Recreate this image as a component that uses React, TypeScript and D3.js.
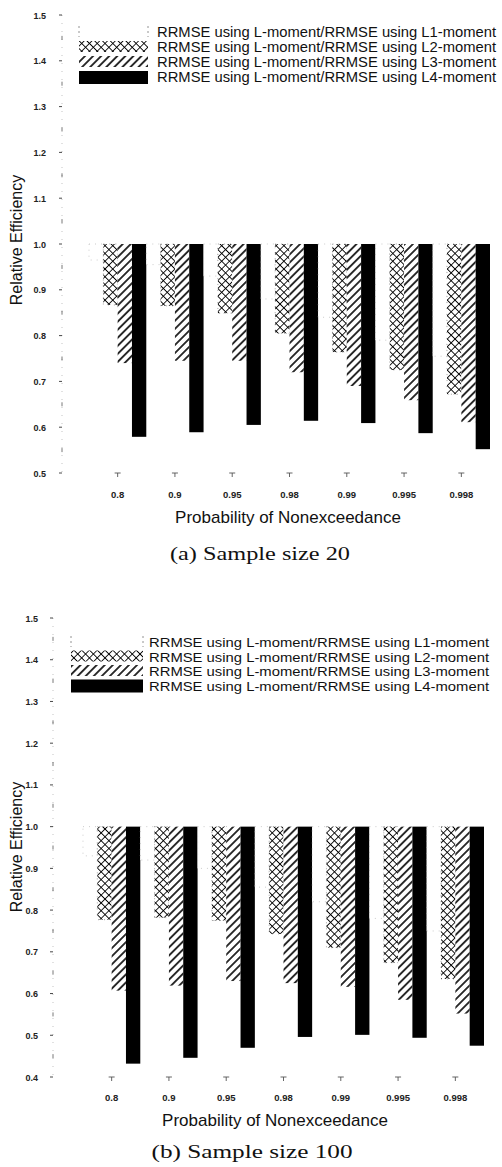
import * as React from "react";
import * as d3 from "d3";

// probability of nonexceedance (x categories)
const categories = ["0.8", "0.9", "0.95", "0.98", "0.99", "0.995", "0.998"];
const seriesKeys = ["L1", "L2", "L3", "L4"];
const legendLabels = seriesKeys.map(k => `RRMSE using L-moment/RRMSE using ${k}-moment`);

// (a) sample size 20
const sizeA_L1 = [0.965, 0.955, 0.93, 0.88, 0.84, 0.79, 0.755];
const sizeA_L2 = [0.867, 0.865, 0.849, 0.805, 0.764, 0.725, 0.672];
const sizeA_L3 = [0.74, 0.745, 0.745, 0.72, 0.69, 0.659, 0.611];
const sizeA_L4 = [0.579, 0.589, 0.605, 0.614, 0.609, 0.587, 0.552];

// (b) sample size 100
const sizeB_L1 = [0.93, 0.92, 0.9, 0.855, 0.82, 0.78, 0.75];
const sizeB_L2 = [0.777, 0.782, 0.775, 0.743, 0.71, 0.674, 0.635];
const sizeB_L3 = [0.607, 0.619, 0.63, 0.625, 0.616, 0.585, 0.552];
const sizeB_L4 = [0.432, 0.446, 0.47, 0.496, 0.501, 0.494, 0.475];

const SANS = "'Liberation Sans', Arial, Helvetica, sans-serif";
const SERIF = "'Liberation Serif', 'Times New Roman', serif";

const Panel = (props: any) => {
  const { id, series, yMin, yMax, yTop, yBottom, xLeft, xRight, axisX } = props;
  const y = d3.scaleLinear().domain([yMin, yMax]).range([yBottom, yTop]);
  const x0 = d3.scaleBand().domain(categories).range([xLeft, xRight]);
  const x1 = d3.scaleBand().domain(seriesKeys).range([0, x0.bandwidth()]);
  const fmt = d3.format(".1f");
  const ticks = y.ticks(12);
  const minor = d3.range(yMin + 0.05, yMax, 0.1);
  const fills = ["#fff", `url(#cross-${id})`, `url(#hatch-${id})`, "#000"];

  const swatch = (j: number, sx: number, sy: number, sw: number, sh: number) => {
    if (j === 0) {
      return (
        <g key={"sw" + j}>
          <line x1={sx} x2={sx} y1={sy} y2={sy + sh} stroke="#777" strokeDasharray="2 3" strokeWidth={0.8} />
          <line x1={sx + sw} x2={sx + sw} y1={sy} y2={sy + sh} stroke="#777" strokeDasharray="2 3" strokeWidth={0.8} />
        </g>
      );
    }
    return <rect key={"sw" + j} x={sx} y={sy} width={sw} height={sh} fill={fills[j]} />;
  };

  return (
    <g>
      <defs>
        <pattern id={`cross-${id}`} width={5.5} height={5.5} patternUnits="userSpaceOnUse" patternTransform="rotate(45)">
          <rect width={5.5} height={5.5} fill="#fff" />
          <path d="M0,0H5.5M0,0V5.5" stroke="#000" strokeWidth={1.7} fill="none" />
        </pattern>
        <pattern id={`hatch-${id}`} width={5.7} height={5.7} patternUnits="userSpaceOnUse" patternTransform="rotate(45)">
          <rect width={5.7} height={5.7} fill="#fff" />
          <path d="M2.85,0V5.7" stroke="#000" strokeWidth={1.6} />
        </pattern>
      </defs>

      {/* y axis */}
      <line x1={axisX} x2={axisX} y1={y(yMax)} y2={y(yMin)} stroke="#aaa" strokeWidth={0.7} strokeDasharray="1 7" />
      {ticks.map(t => (
        <g key={"t" + t}>
          <line x1={axisX - 3} x2={axisX} y1={y(t)} y2={y(t)} stroke="#333" strokeWidth={0.9} />
          <text x={props.tickLabelX} y={y(t) + 3.5} textAnchor="end" fontFamily={SANS} fontSize={9} fontWeight="bold" fill="#222">
            {fmt(t)}
          </text>
        </g>
      ))}
      {minor.map(t => (
        <line key={"m" + t} x1={axisX} x2={axisX} y1={y(t) - 2} y2={y(t) + 2} stroke="#555" strokeWidth={0.8} />
      ))}
      <text
        transform={`translate(${props.yTitleX},${props.yTitleY}) rotate(-90)`}
        textAnchor="middle"
        fontFamily={SANS}
        fontSize={16}
        fill="#111"
      >
        Relative Efficiency
      </text>

      {/* bars hanging from 1.0 */}
      {categories.map((c, i) => (
        <g key={c}>
          {series.map((vals: number[], j: number) => (
            <rect
              key={j}
              x={x0(c)! + x1(seriesKeys[j])!}
              y={y(1)}
              width={x1.bandwidth()}
              height={y(vals[i]) - y(1)}
              fill={fills[j]}
              stroke={j === 0 ? "#aaa" : j === 1 ? "#666" : "none"}
              strokeWidth={j < 2 ? 0.6 : 0}
              strokeDasharray={j < 2 ? "1 5" : undefined}
            />
          ))}
          <path
            d={`M${x0(c)! + x0.bandwidth() / 2 - 3},${y(yMin)}h6M${x0(c)! + x0.bandwidth() / 2},${y(yMin)}v4`}
            stroke="#555"
            strokeWidth={0.9}
          />
          <text
            x={x0(c)! + x0.bandwidth() / 2}
            y={props.xLabelY}
            textAnchor="middle"
            fontFamily={SANS}
            fontSize={9.5}
            fontWeight="bold"
            fill="#222"
          >
            {c}
          </text>
        </g>
      ))}

      {/* legend */}
      {legendLabels.map((lab, j) => {
        const sy = props.legendY + j * props.legendStep;
        return (
          <g key={lab}>
            {swatch(j, props.legendX, sy, props.swatchW, j === 3 ? 13 : 11)}
            <text
              x={props.legendTextX}
              y={sy + 11}
              fontFamily={SANS}
              fontSize={props.legendFont}
              fill="#111"
              textLength={props.legendTextLen}
              lengthAdjust="spacingAndGlyphs"
            >
              {lab}
            </text>
          </g>
        );
      })}

      <text x={props.xTitleX} y={props.xTitleY} textAnchor="middle" fontFamily={SANS} fontSize={17} fill="#111">
        Probability of Nonexceedance
      </text>
      <text
        x={props.captionX}
        y={props.captionY}
        textAnchor="middle"
        fontFamily={SERIF}
        fontSize={19}
        fill="#111"
        textLength={props.captionLen}
        lengthAdjust="spacingAndGlyphs"
      >
        {props.caption}
      </text>
    </g>
  );
};

const App = () => (
  <svg width={502} height={1167} style={{ position: "absolute", left: 0, top: 0, background: "#fff" }}>
    <rect width={502} height={1167} fill="#fff" />
    <Panel
      id="a"
      series={[sizeA_L1, sizeA_L2, sizeA_L3, sizeA_L4]}
      yMin={0.5}
      yMax={1.5}
      yTop={15}
      yBottom={473}
      xLeft={89}
      xRight={490}
      axisX={62}
      tickLabelX={46}
      yTitleX={22}
      yTitleY={240}
      xLabelY={498}
      legendX={79}
      legendY={26}
      legendStep={15}
      legendFont={15}
      swatchW={69}
      legendTextX={157}
      legendTextLen={339}
      xTitleX={288}
      xTitleY={523}
      captionX={260}
      captionY={560}
      captionLen={180}
      caption="(a) Sample size 20"
    />
    <Panel
      id="b"
      series={[sizeB_L1, sizeB_L2, sizeB_L3, sizeB_L4]}
      yMin={0.4}
      yMax={1.5}
      yTop={618}
      yBottom={1077}
      xLeft={83}
      xRight={484}
      axisX={53}
      tickLabelX={38}
      yTitleX={22}
      yTitleY={847}
      xLabelY={1101}
      legendX={71}
      legendY={636}
      legendStep={14.5}
      legendFont={13.5}
      swatchW={72}
      legendTextX={149}
      legendTextLen={340}
      xTitleX={275}
      xTitleY={1126}
      captionX={252}
      captionY={1158}
      captionLen={201}
      caption="(b) Sample size 100"
    />
  </svg>
);

export default App;
